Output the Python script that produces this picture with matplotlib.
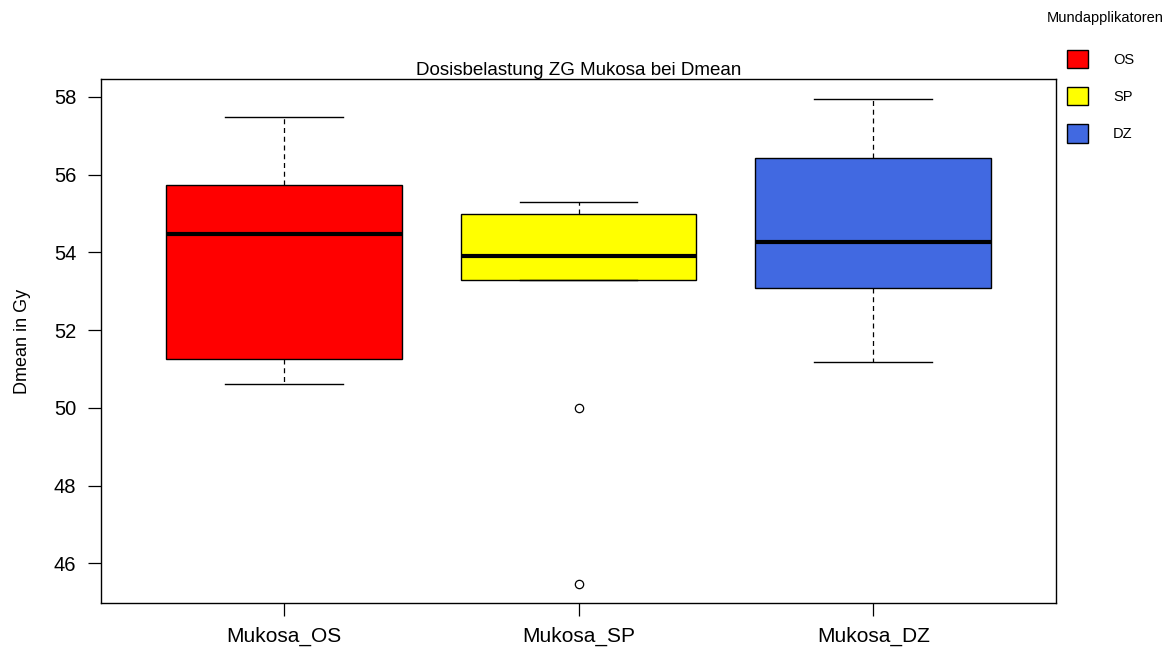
import matplotlib.pyplot as plt
from matplotlib.patches import Patch

plt.rcParams['font.family'] = ['Liberation Sans', 'DejaVu Sans']

# Kennwerte der drei Gruppen (Dmean in Gy)
gruppen = ['Mukosa_OS', 'Mukosa_SP', 'Mukosa_DZ']
legende = ['OS', 'SP', 'DZ']
farben = ['#FF0000', '#FFFF00', '#4169E1']
q1 = [51.25, 53.29, 53.08]
median = [54.47, 53.90, 54.27]
q3 = [55.73, 54.99, 56.43]
whisker_unten = [50.61, 53.29, 51.18]
whisker_oben = [57.49, 55.30, 57.95]
ausreisser = [[], [49.99, 45.48], []]

stats = []
for i in range(3):
    stats.append(dict(label=gruppen[i], q1=q1[i], med=median[i], q3=q3[i],
                      whislo=whisker_unten[i], whishi=whisker_oben[i],
                      fliers=ausreisser[i]))

fig = plt.figure(figsize=(11.71, 6.52), dpi=100)
ax = fig.add_axes([0.0863, 0.0752, 0.8155, 0.8036])

bp = ax.bxp(stats, positions=[1, 2, 3], widths=0.8, patch_artist=True,
            showfliers=True,
            boxprops=dict(linewidth=1.0, edgecolor='black'),
            medianprops=dict(color='black', linewidth=3),
            whiskerprops=dict(color='black', linewidth=0.9, linestyle=(0, (4, 3))),
            capprops=dict(color='black', linewidth=1.0),
            capwidths=0.4,
            flierprops=dict(marker='o', markersize=6, markerfacecolor='white',
                            markeredgecolor='black', markeredgewidth=0.9))
for box, farbe in zip(bp['boxes'], farben):
    box.set_facecolor(farbe)

ax.set_xlim(0.38, 3.62)
ax.set_ylim(44.98, 58.46)
ax.set_yticks([46, 48, 50, 52, 54, 56, 58])
ax.tick_params(axis='both', direction='out', length=9.4, width=0.9,
               labelsize=14.5)
ax.tick_params(axis='y', pad=8.5)
ax.tick_params(axis='x', labelsize=15, pad=8)
for s in ax.spines.values():
    s.set_linewidth(1.0)

ax.set_title('Dosisbelastung ZG Mukosa bei Dmean', fontsize=13.5, pad=2.5)
ax.set_ylabel('Dmean in Gy', fontsize=13, labelpad=16)

# Legende rechts oben ausserhalb der Achsen, Titel separat
fig.text(1105 / 1171, 1 - 18 / 652, 'Mundapplikatoren', fontsize=10.5,
         ha='center', va='center')
handles = [Patch(facecolor=f, edgecolor='black', linewidth=1.0) for f in farben]
fig.legend(handles, legende, loc='upper left',
           bbox_to_anchor=(1067 / 1171, 1 - 50 / 652), frameon=False,
           handlelength=1.44, handleheight=1.55,
           labelspacing=1.3, handletextpad=1.71, borderpad=0,
           borderaxespad=0, prop=dict(size=10.5))

fig.savefig('out.png', dpi=100)
